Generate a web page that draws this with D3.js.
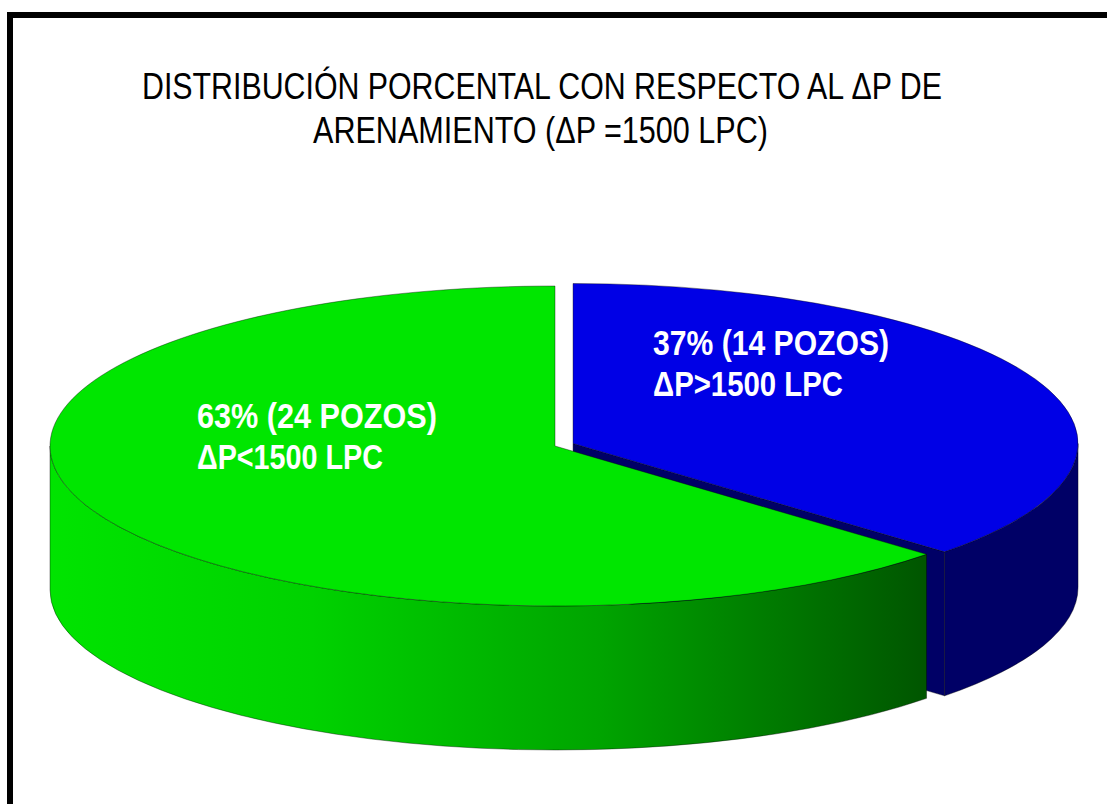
<!DOCTYPE html>
<html>
<head>
<meta charset="utf-8">
<script src="https://cdn.jsdelivr.net/npm/d3@7"></script>
<style>
  html, body { margin: 0; padding: 0; background: #fff; }
  svg { display: block; }
</style>
</head>
<body>
<div id="chart"></div>
<script>
// data
const categories = ["ΔP>1500 LPC", "ΔP<1500 LPC"];
const pozos = [14, 24];
const titleLines = ["DISTRIBUCIÓN PORCENTAL CON RESPECTO AL ΔP DE", "ARENAMIENTO (ΔP =1500 LPC)"];

// styling
const topColors = ["#0000e6", "#00e600"];
const sideColors = ["#000066", "url(#greenSide)"];
const explode = [0.039, 0];
// label offsets from slice centre (left x, baseline y) and widths
const labelOffsets = [[80, -88], [-358, -18]];
const labelWidths = [[236, 190], [240, 186]];

const W = 1107, H = 804;
const cx = 555, cy = 446, rx = 505, ry = 160, depth = 144;

const svg = d3.select('#chart').append('svg')
    .attr('width', W)
    .attr('height', H);

const defs = svg.append('defs');
const grad = defs.append('linearGradient')
    .attr('id', 'greenSide')
    .attr('gradientUnits', 'userSpaceOnUse')
    .attr('x1', cx - rx).attr('x2', 923)
    .attr('y1', 0).attr('y2', 0);
[[0, '#00e400'], [0.3, '#00d200'], [0.63, '#00a400'], [1, '#005600']].forEach(s => {
    grad.append('stop').attr('offset', s[0]).attr('stop-color', s[1]);
});

// frame
svg.append('rect')
    .attr('x', 10).attr('y', 15)
    .attr('width', 1300).attr('height', 1000)
    .attr('fill', 'none')
    .attr('stroke', '#000')
    .attr('stroke-width', 6);

// title
const titleX = [142, 313], titleY = [99, 143], titleLen = [800, 455];
svg.selectAll('.title')
    .data(titleLines)
    .enter()
    .append('text')
    .attr('class', 'title')
    .attr('x', (d, i) => titleX[i])
    .attr('y', (d, i) => titleY[i])
    .attr('textLength', (d, i) => titleLen[i])
    .attr('lengthAdjust', 'spacingAndGlyphs')
    .style('font-family', '"Liberation Sans", Arial, sans-serif')
    .style('font-size', '36px')
    .style('fill', '#000')
    .text(d => d);

const total = d3.sum(pozos);
const pie = d3.pie().sort(null).value(d => d);
const arcs = pie(pozos).map((a, i) => {
    const mid = (a.startAngle + a.endAngle) / 2;
    return Object.assign(a, {
        i: i,
        cx: cx + explode[i] * rx * Math.sin(mid),
        cy: cy - explode[i] * ry * Math.cos(mid)
    });
});

function pt(a, ang, dz) {
    return [a.cx + rx * Math.sin(ang), a.cy - ry * Math.cos(ang) + (dz || 0)];
}

function topPath(a) {
    const p0 = pt(a, a.startAngle), p1 = pt(a, a.endAngle);
    const large = (a.endAngle - a.startAngle) > Math.PI ? 1 : 0;
    return `M${a.cx},${a.cy}L${p0}A${rx},${ry} 0 ${large} 1 ${p1}Z`;
}

function rimPath(a) {
    const s = Math.max(a.startAngle, Math.PI / 2);
    const e = Math.min(a.endAngle, Math.PI * 3 / 2);
    if (e <= s) return null;
    const p0 = pt(a, s), p1 = pt(a, e);
    const q0 = pt(a, s, depth), q1 = pt(a, e, depth);
    return `M${p0}A${rx},${ry} 0 0 1 ${p1}L${q1}A${rx},${ry} 0 0 0 ${q0}Z`;
}

function wallPath(a, ang) {
    const p = pt(a, ang);
    return `M${a.cx},${a.cy}L${p}L${p[0]},${p[1] + depth}L${a.cx},${a.cy + depth}Z`;
}

const edge = 'rgba(0,0,0,0.55)';

arcs.forEach(a => {
    const g = svg.append('g').attr('class', 'slice');
    // radial wall facing the viewer (end of the clockwise slice)
    if (a.endAngle < Math.PI * 3 / 2 && a.endAngle > Math.PI / 2) {
        g.append('path')
            .attr('d', wallPath(a, a.endAngle))
            .attr('fill', sideColors[a.i])
            .attr('stroke', edge)
            .attr('stroke-width', 0.7);
    }
    const rim = rimPath(a);
    if (rim) {
        g.append('path')
            .attr('d', rim)
            .attr('fill', sideColors[a.i])
            .attr('stroke', edge)
            .attr('stroke-width', 0.7);
    }
    g.append('path')
        .attr('d', topPath(a))
        .attr('fill', topColors[a.i])
        .attr('stroke', edge)
        .attr('stroke-width', 0.7);

    const pct = Math.round(a.value / total * 100);
    const lines = [`${pct}% (${a.value} POZOS)`, categories[a.i]];
    const off = labelOffsets[a.i];
    lines.forEach((t, j) => {
        g.append('text')
            .attr('x', a.cx + off[0])
            .attr('y', a.cy + off[1] + j * 41)
            .attr('textLength', labelWidths[a.i][j])
            .attr('lengthAdjust', 'spacingAndGlyphs')
            .style('font-family', '"Liberation Sans", Arial, sans-serif')
            .style('font-weight', 'bold')
            .style('font-size', '35px')
            .style('fill', '#fff')
            .text(t);
    });
});
</script>
</body>
</html>
